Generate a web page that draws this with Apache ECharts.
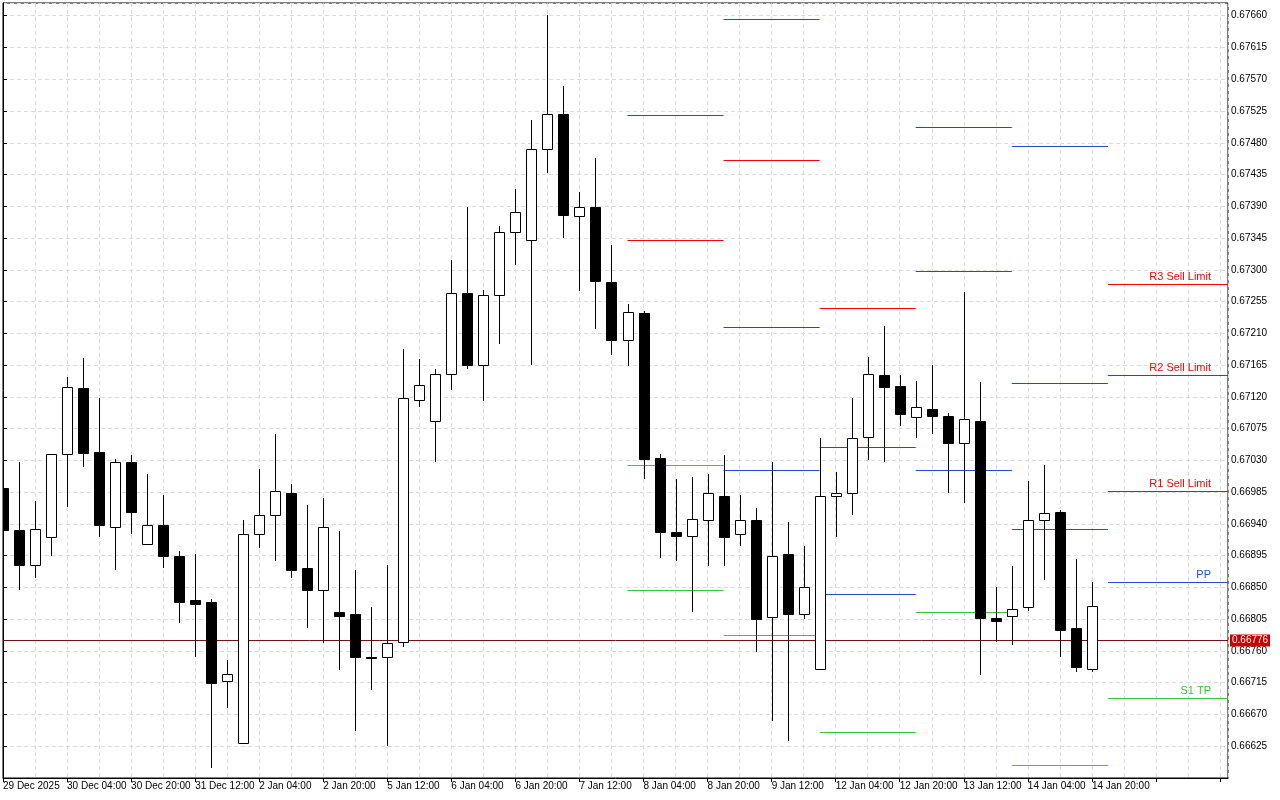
<!DOCTYPE html>
<html>
<head>
<meta charset="utf-8">
<script src="https://cdn.jsdelivr.net/npm/echarts@6/dist/echarts.min.js"></script>
<style>
  html, body { margin: 0; padding: 0; background: #fff; }
  #chart { width: 1280px; height: 800px; }
</style>
</head>
<body>
<div id="chart"></div>
<script>
// 4H bars, one label every 4 bars
var tickLabels = ['29 Dec 2025', '30 Dec 04:00', '30 Dec 20:00', '31 Dec 12:00', '2 Jan 04:00', '2 Jan 20:00',
    '5 Jan 12:00', '6 Jan 04:00', '6 Jan 20:00', '7 Jan 12:00', '8 Jan 04:00', '8 Jan 20:00', '9 Jan 12:00',
    '12 Jan 04:00', '12 Jan 20:00', '13 Jan 12:00', '14 Jan 04:00', '14 Jan 20:00'];

var opens = [0.66991,0.66932,0.66882,0.66921,0.67039,0.67133,0.67042,0.66936,0.67028,0.66911,
    0.66939,0.66895,0.66832,0.66830,0.66717,0.66629,0.66926,0.66952,0.66984,0.66878,
    0.66846,0.66815,0.66812,0.66752,0.66752,0.66772,0.67116,0.67086,0.67153,0.67267,
    0.67165,0.67264,0.67353,0.67342,0.67471,0.67521,0.67376,0.67389,0.67283,0.67201,
    0.67239,0.67034,0.66928,0.66923,0.66946,0.66980,0.66926,0.66945,0.66808,0.66897,
    0.66813,0.66735,0.66980,0.66984,0.67063,0.67151,0.67136,0.67092,0.67103,0.67093,
    0.67055,0.67086,0.66806,0.66810,0.66822,0.66945,0.66957,0.66792,0.66735];
var closes = [0.66932,0.66882,0.66933,0.67039,0.67134,0.67041,0.66938,0.67027,0.66957,0.66939,
    0.66895,0.66829,0.66827,0.66714,0.66727,0.66926,0.66952,0.66986,0.66874,0.66846,
    0.66935,0.66809,0.66751,0.66751,0.66771,0.67119,0.67137,0.67152,0.67267,0.67165,
    0.67264,0.67353,0.67382,0.67471,0.67521,0.67377,0.67389,0.67284,0.67201,0.67240,
    0.67032,0.66928,0.66923,0.66947,0.66984,0.66922,0.66946,0.66805,0.66895,0.66812,
    0.66851,0.66980,0.66984,0.67062,0.67153,0.67134,0.67095,0.67106,0.67093,0.67055,
    0.67089,0.66806,0.66803,0.66819,0.66945,0.66956,0.66789,0.66737,0.66823];
var highs = [0.66997,0.67028,0.66973,0.67039,0.67148,0.67175,0.67119,0.67032,0.67037,0.67011,
    0.66981,0.66902,0.66897,0.66834,0.66747,0.66946,0.67018,0.67068,0.66997,0.66967,
    0.66977,0.66930,0.66875,0.66822,0.66882,0.67188,0.67174,0.67160,0.67314,0.67389,
    0.67271,0.67362,0.67415,0.67512,0.67661,0.67560,0.67410,0.67458,0.67335,0.67251,
    0.67242,0.67039,0.67003,0.67007,0.67011,0.67038,0.66981,0.66963,0.67028,0.66943,
    0.66909,0.67062,0.67013,0.67119,0.67177,0.67220,0.67151,0.67143,0.67165,0.67097,
    0.67268,0.67141,0.66850,0.66881,0.67001,0.67023,0.66960,0.66890,0.66858];
var lows = [0.66926,0.66847,0.66864,0.66894,0.66964,0.67020,0.66921,0.66875,0.66925,0.66911,
    0.66877,0.66799,0.66752,0.66594,0.66679,0.66629,0.66906,0.66887,0.66864,0.66792,
    0.66771,0.66733,0.66646,0.66704,0.66625,0.66765,0.67106,0.67027,0.67130,0.67160,
    0.67114,0.67195,0.67307,0.67165,0.67437,0.67345,0.67270,0.67216,0.67179,0.67164,
    0.67003,0.66892,0.66888,0.66815,0.66881,0.66880,0.66909,0.66758,0.66661,0.66632,
    0.66805,0.66735,0.66921,0.66953,0.67031,0.67027,0.67079,0.67061,0.67068,0.66984,
    0.66969,0.66726,0.66773,0.66768,0.66816,0.66860,0.66751,0.66730,0.66730];

// daily pivot levels: start bar, end bar, price, kind, label
var levelStart = [39,39,39,39, 45,45,45,45,45, 51,51,51,51, 57,57,57,57, 63,63,63,63, 69,69,69,69,69];
var levelEnd   = [45,45,45,45, 51,51,51,51,51, 57,57,57,57, 63,63,63,63, 69,69,69,69, 76.5,76.5,76.5,76.5,76.5];
var levelPrice = [0.67520,0.67342,0.67024,0.66847, 0.67656,0.67455,0.67219,0.67017,0.66782,
    0.67246,0.67049,0.66841,0.66645, 0.67502,0.67298,0.67017,0.66815,
    0.67475,0.67140,0.66933,0.66598, 0.67280,0.67151,0.66987,0.66858,0.66694];
var levelKind  = ['R','R','S','S', 'R','R','R','P','S', 'R','R','P','S', 'R','R','P','S',
    'P','R','P','S', 'R','R','R','P','S'];
var levelText  = ['','','','', '','','','','', '','','','', '','','','', '','','','',
    'R3 Sell Limit','R2 Sell Limit','R1 Sell Limit','PP','S1 TP'];

var lastPrice = 0.66776;

var kindColor = { R: '#ff0000', P: '#1a4fd6', S: '#33cc33' };

var candleData = opens.map(function (o, i) { return [i, o, closes[i], lows[i], highs[i]]; });

var chart = echarts.init(document.getElementById('chart'));

function renderCandle(params, api) {
    var x = api.value(0), o = api.value(1), c = api.value(2), l = api.value(3), h = api.value(4);
    var pO = api.coord([x, o]), pC = api.coord([x, c]);
    var pH = api.coord([x, h]), pL = api.coord([x, l]);
    var cx = Math.round(pO[0]) + 0.5;
    var top = Math.round(Math.min(pO[1], pC[1])) + 0.5;
    var bot = Math.round(Math.max(pO[1], pC[1])) + 0.5;
    var up = c > o;
    return {
        type: 'group',
        children: [{
            type: 'line',
            shape: { x1: cx, y1: Math.round(pH[1]), x2: cx, y2: Math.round(pL[1]) },
            style: { stroke: '#000', lineWidth: 1 }
        }, {
            type: 'rect',
            shape: { x: cx - 5, y: top, width: 10, height: Math.max(bot - top, 1) },
            style: { fill: up ? '#fff' : '#000', stroke: '#000', lineWidth: 1 }
        }]
    };
}

// one custom series per level kind, each with its own colour
function levelSeries(kind) {
    var rows = [];
    levelPrice.forEach(function (p, i) {
        if (levelKind[i] === kind) rows.push([levelStart[i], p, levelEnd[i], i]);
    });
    var col = kindColor[kind];
    return {
        type: 'custom',
        clip: true,
        z: 2,
        data: rows,
        renderItem: function (params, api) {
            var row = rows[params.dataIndex];
            var a = api.coord([row[0], row[1]]);
            var b = api.coord([row[2], row[1]]);
            var y = Math.round(a[1]) + 0.5;
            var children = [{
                type: 'line',
                shape: { x1: a[0], y1: y, x2: b[0], y2: y },
                style: { stroke: col, lineWidth: 1 }
            }];
            var txt = levelText[row[3]];
            if (txt) {
                children.push({
                    type: 'text',
                    x: b[0] - 17, y: y - 2,
                    style: { text: txt, fill: col, font: '11px "Liberation Sans"', align: 'right', verticalAlign: 'bottom' }
                });
            }
            return { type: 'group', children: children };
        }
    };
}

function renderPrice(params, api) {
    var a = api.coord([0, lastPrice]);
    var b = api.coord([76.5, lastPrice]);
    var y = Math.round(a[1]) + 0.5;
    return {
        type: 'group',
        children: [{
            type: 'line',
            shape: { x1: a[0], y1: y, x2: b[0], y2: y },
            style: { stroke: '#7a1010', lineWidth: 1 }
        }, {
            type: 'rect',
            shape: { x: b[0] + 2, y: y - 6, width: 40, height: 12 },
            style: { fill: '#cc0000' }
        }, {
            type: 'text',
            x: b[0] + 4, y: y,
            style: { text: lastPrice.toFixed(5), fill: '#fff', font: '10px "Liberation Sans"', verticalAlign: 'middle' }
        }]
    };
}

var option = {
    animation: false,
    backgroundColor: '#fff',
    grid: { left: 3, top: 3, right: 52, bottom: 22, show: true, borderColor: '#000', borderWidth: 1 },
    xAxis: {
        type: 'value',
        min: 0, max: 76.5, interval: 4,
        axisLine: { show: true, lineStyle: { color: '#000' } },
        axisTick: { show: true, length: 4, lineStyle: { color: '#000' } },
        axisLabel: {
            showMaxLabel: false,
            align: 'left', margin: 3, color: '#000', fontSize: 10, fontFamily: 'Liberation Sans',
            formatter: function (v) { return tickLabels[Math.round(v / 4)] || ''; }
        },
        splitLine: { show: true, lineStyle: { color: '#dcdcdc', type: [4, 3] } },
        minorTick: { show: false, splitNumber: 2 },
        minorSplitLine: { show: true, lineStyle: { color: '#dcdcdc', type: [4, 3] } }
    },
    yAxis: {
        type: 'value',
        position: 'right',
        min: 0.66580, max: 0.67678, interval: 0.00045,
        axisLine: { show: true, lineStyle: { color: '#000' } },
        axisTick: { show: true, inside: false, length: 4, lineStyle: { color: '#000' } },
        axisLabel: {
            showMinLabel: false, showMaxLabel: false,
            margin: 3, color: '#000', fontSize: 10, fontFamily: 'Liberation Sans',
            formatter: function (v) { return v.toFixed(5); }
        },
        splitLine: { show: true, lineStyle: { color: '#dcdcdc', type: [4, 3] } }
    },
    series: [
        levelSeries('R'),
        levelSeries('P'),
        levelSeries('S'),
        {
            type: 'custom',
            renderItem: renderPrice,
            data: [[0, lastPrice]],
            clip: false,
            z: 2
        }, {
            type: 'custom',
            renderItem: renderCandle,
            data: candleData,
            clip: true,
            z: 3
        }
    ]
};

chart.setOption(option);
</script>
</body>
</html>
